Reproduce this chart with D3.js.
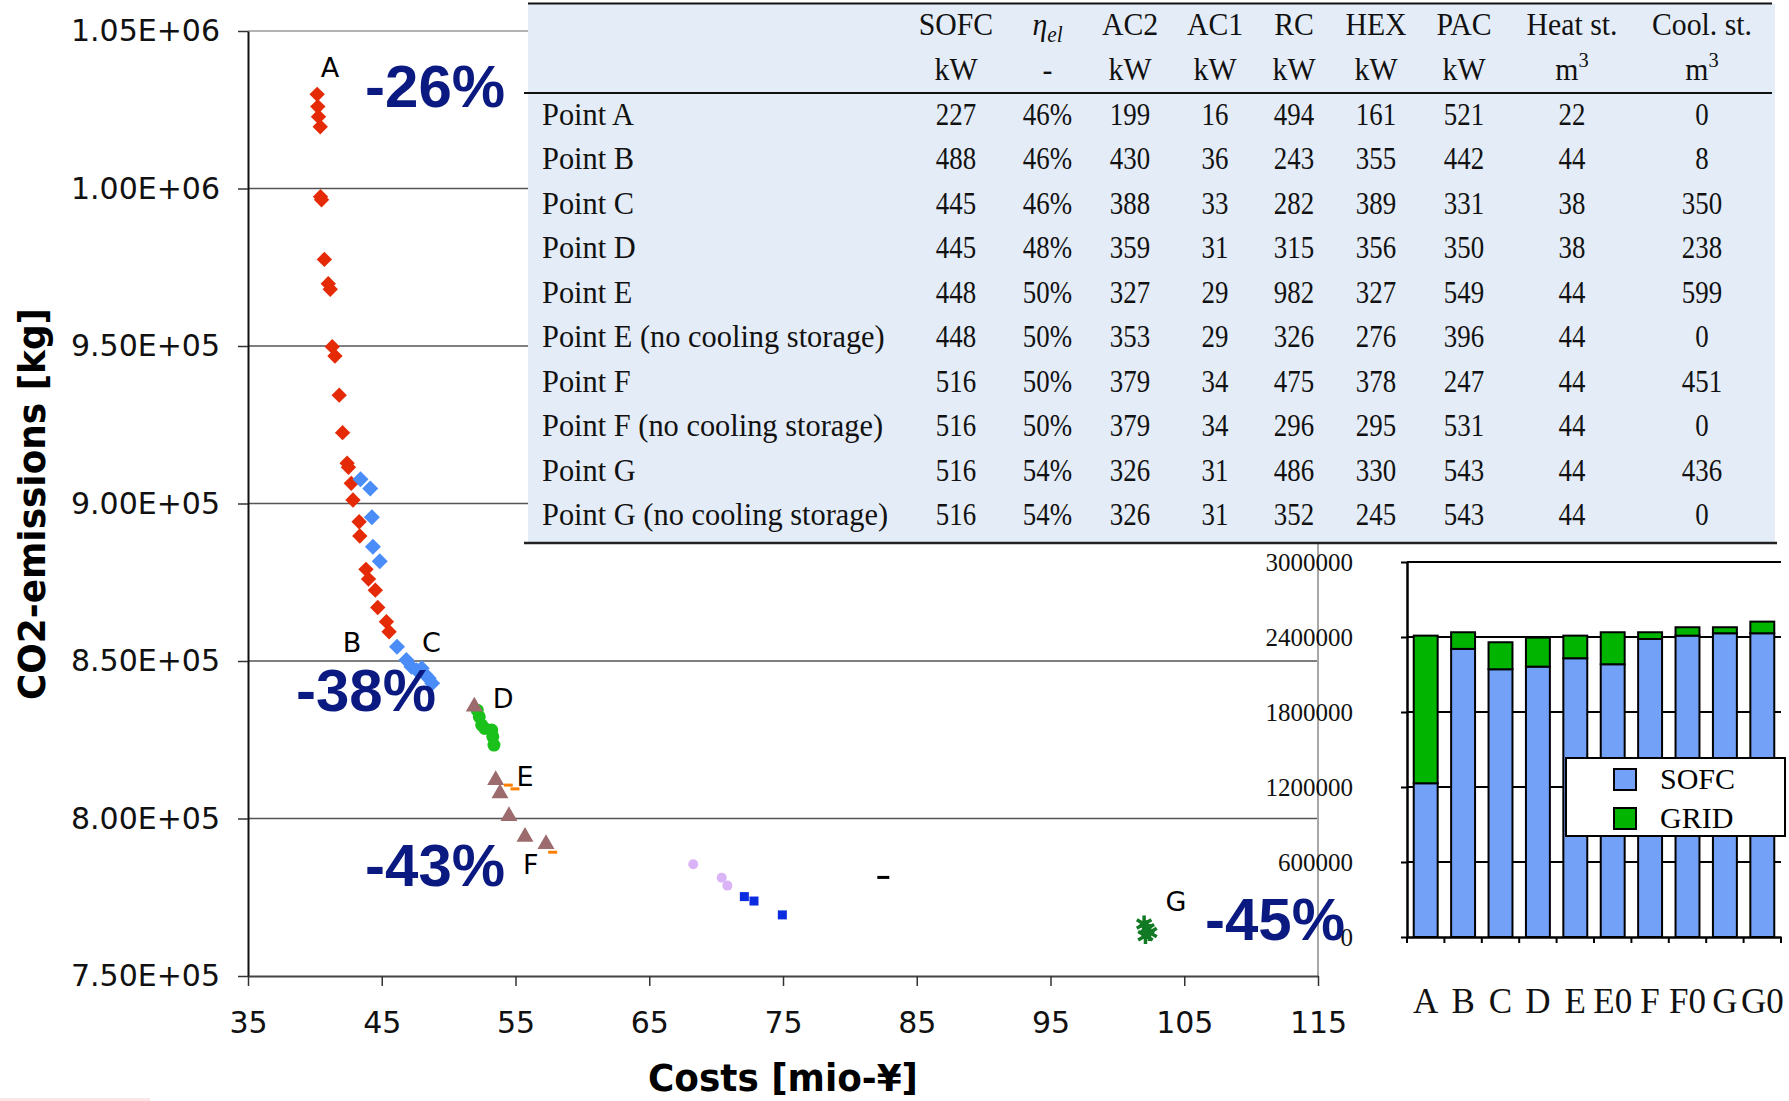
<!DOCTYPE html>
<html>
<head>
<meta charset="utf-8">
<script src="https://cdn.jsdelivr.net/npm/d3@7"></script>
<style>
  body { margin: 0; background: #fff; }
  svg { display: block; }
</style>
</head>
<body>
<svg id="chart" width="1789" height="1101"></svg>
<script>
// ---- scatter data: [cost mio-Yen, CO2 kg] ----
const redPts = [[40.17,1029900],[40.22,1026000],[40.27,1022800],[40.40,1019600],[40.42,997400],[40.50,996400],
  [40.71,977500],[41.00,969800],[41.15,968000],[41.30,949800],[41.50,946800],[41.82,934400],[42.07,922500],
  [42.41,912800],[42.51,911500],[42.72,906400],[42.85,901100],[43.31,894200],[43.36,889700],[43.82,879100],
  [44.01,876000],[44.52,872500],[44.70,867000],[45.35,862500],[45.55,859300]];
const bluePts = [[43.41,907700],[44.14,904800],[44.26,895600],[44.34,886300],[44.85,881700],[46.14,854500],
  [46.84,850300],[47.22,848200],[47.61,847100],[47.99,847700],[48.26,845600],[48.51,844500],[48.77,842900]];
const trianglePts = [[51.92,835500],[53.52,812200],[53.84,808000],[54.51,800800],[55.71,794200],[57.28,791900]];
const greenPts = [[52.14,834400],[52.29,832300],[52.47,829700],[52.70,828600],[53.22,828100],[53.30,826000],[53.39,823300]];
const orangePts = [[54.46,810600],[54.96,809400],[57.78,789300]];
const lilacPts = [[68.29,785500],[70.42,781200],[70.84,778700]];
const squarePts = [[72.11,775200],[72.83,773800],[74.95,769400]];
const dashPts = [[82.50,781300]];
const starPts = [[102.0,766500],[102.2,765000],[102.4,763800],[102.1,762800]];

// point letters and reduction labels (placed in data units)
const pointLabels = [["A",41.13,1035400],["B",42.78,852900],["C",48.72,852900],["D",54.07,835100],
  ["E",55.71,810300],["F",56.14,782400],["G",104.38,770600]];
const pctLabels = [["-26%",43.75,1025900],["-38%",38.59,834100],["-43%",43.75,778600],["-45%",106.55,761400]];

// ---- stacked bar data ----
const barCats = ["A","B","C","D","E","E0","F","F0","G","G0"];
const sofcBar = [1230000,2305000,2142000,2163000,2230000,2182000,2384000,2411000,2430000,2430000];
const gridBar = [1181000,133000,216000,232000,181000,256000,54000,67000,48000,93000];

// ---- table data ----
const rowLabels = ["Point A","Point B","Point C","Point D","Point E","Point E (no cooling storage)",
  "Point F","Point F (no cooling storage)","Point G","Point G (no cooling storage)"];
const colHeads = ["SOFC","η","AC2","AC1","RC","HEX","PAC","Heat st.","Cool. st."];
const colUnits = ["kW","-","kW","kW","kW","kW","kW","m","m"];
const sofcKW = [227,488,445,445,448,448,516,516,516,516];
const etaEl = ["46%","46%","46%","48%","50%","50%","50%","50%","54%","54%"];
const ac2KW = [199,430,388,359,327,353,379,379,326,326];
const ac1KW = [16,36,33,31,29,29,34,34,31,31];
const rcKW = [494,243,282,315,982,326,475,296,486,352];
const hexKW = [161,355,389,356,327,276,378,295,330,245];
const pacKW = [521,442,331,350,549,396,247,531,543,543];
const heatSt = [22,44,38,38,44,44,44,44,44,44];
const coolSt = [0,8,350,238,599,0,451,0,436,0];

const svg = d3.select("#chart");
const sans = "DejaVu Sans, Verdana, sans-serif";
const serif = "Liberation Serif, Times New Roman, serif";

// faint mark at bottom left
svg.append("rect").attr("x", 0).attr("y", 1098).attr("width", 150).attr("height", 3).attr("fill", "#fde6e6");

// ================= main scatter =================
const x = d3.scaleLinear().domain([35, 115]).range([248, 1318]);
const y = d3.scaleLinear().domain([750000, 1050000]).range([976, 31]);
const yTicks = d3.range(750000, 1050001, 50000);

// gridlines
svg.append("g").selectAll("line")
  .data(yTicks.filter(d => d > 750000))
  .join("line")
  .attr("x1", x(35)).attr("x2", x(115))
  .attr("y1", d => y(d)).attr("y2", d => y(d))
  .attr("stroke", d => d === 1050000 ? "#999" : "#555")
  .attr("stroke-width", 1.5);

// right border of the plot area
svg.append("line")
  .attr("x1", x(115)).attr("x2", x(115)).attr("y1", 543).attr("y2", y(750000))
  .attr("stroke", "#a8a8a8").attr("stroke-width", 2);

const fmtE = d => {
  const [m, e] = d.toExponential(2).split("e");
  return m + "E" + e[0] + e.slice(1).padStart(2, "0");
};

const yAxis = svg.append("g")
  .attr("transform", `translate(${x(35)},0)`)
  .call(d3.axisLeft(y).tickValues(yTicks).tickFormat(fmtE).tickSize(10).tickPadding(18).tickSizeOuter(0));
yAxis.attr("font-family", sans).attr("font-size", 30);
yAxis.select(".domain").attr("stroke", "#111").attr("stroke-width", 2);
yAxis.selectAll(".tick line").attr("stroke", "#333").attr("stroke-width", 1.5);
yAxis.selectAll("text").attr("fill", "#111");

const xAxis = svg.append("g")
  .attr("transform", `translate(0,${y(750000)})`)
  .call(d3.axisBottom(x).tickValues(d3.range(35, 116, 10)).tickSize(10).tickPadding(26).tickSizeOuter(0));
xAxis.attr("font-family", sans).attr("font-size", 30);
xAxis.select(".domain").attr("stroke", "#444").attr("stroke-width", 2);
xAxis.selectAll(".tick line").attr("stroke", "#333").attr("stroke-width", 1.5);
xAxis.selectAll("text").attr("fill", "#111");

// axis titles
svg.append("text")
  .attr("x", 783).attr("y", 1091)
  .attr("text-anchor", "middle")
  .attr("font-family", sans).attr("font-weight", "bold").attr("font-size", 37)
  .attr("textLength", 270).attr("lengthAdjust", "spacingAndGlyphs")
  .text("Costs [mio-¥]");

svg.append("text")
  .attr("transform", "translate(45,504) rotate(-90)")
  .attr("text-anchor", "middle")
  .attr("font-family", sans).attr("font-weight", "bold").attr("font-size", 38)
  .attr("textLength", 392).attr("lengthAdjust", "spacingAndGlyphs")
  .text("CO2-emissions [kg]");

// markers
const pos = d => `translate(${x(d[0])},${y(d[1])})`;
const marks = svg.append("g");

marks.append("g").selectAll("path").data(redPts).join("path")
  .attr("d", d3.symbol(d3.symbolSquare, 118))
  .attr("transform", d => pos(d) + " rotate(45)")
  .attr("fill", "#e52a07");

marks.append("g").selectAll("path").data(bluePts).join("path")
  .attr("d", d3.symbol(d3.symbolSquare, 128))
  .attr("transform", d => pos(d) + " rotate(45)")
  .attr("fill", "#4a8df8");

marks.append("g").selectAll("circle").data(greenPts).join("circle")
  .attr("cx", d => x(d[0])).attr("cy", d => y(d[1])).attr("r", 6.5)
  .attr("fill", "#1bc11b");

marks.append("g").selectAll("path").data(trianglePts).join("path")
  .attr("d", d3.symbol(d3.symbolTriangle, 125))
  .attr("transform", pos)
  .attr("fill", "#9b6b6e");

marks.append("g").selectAll("rect").data(orangePts).join("rect")
  .attr("x", d => x(d[0]) - 4.5).attr("y", d => y(d[1]) - 1.5)
  .attr("width", 9).attr("height", 3)
  .attr("fill", "#ff8000");

marks.append("g").selectAll("circle").data(lilacPts).join("circle")
  .attr("cx", d => x(d[0])).attr("cy", d => y(d[1])).attr("r", 5)
  .attr("fill", "#dab4f6");

marks.append("g").selectAll("rect").data(squarePts).join("rect")
  .attr("x", d => x(d[0]) - 4.5).attr("y", d => y(d[1]) - 4.5)
  .attr("width", 9).attr("height", 9)
  .attr("fill", "#0b2be0");

marks.append("g").selectAll("rect").data(dashPts).join("rect")
  .attr("x", d => x(d[0]) - 6).attr("y", d => y(d[1]) - 1.5)
  .attr("width", 12).attr("height", 3)
  .attr("fill", "#000");

marks.append("g").selectAll("path").data(starPts).join("path")
  .attr("d", d3.symbol(d3.symbolAsterisk, 200))
  .attr("transform", pos)
  .attr("fill", "none").attr("stroke", "#127a25").attr("stroke-width", 3.5);

// letters
svg.append("g").selectAll("text").data(pointLabels).join("text")
  .attr("x", d => x(d[1])).attr("y", d => y(d[2]))
  .attr("text-anchor", "middle")
  .attr("font-family", sans).attr("font-size", 27)
  .text(d => d[0]);

// ================= stacked bars =================
const xb = d3.scaleBand().domain(barCats).range([1407, 1781]).paddingInner(0.36).paddingOuter(0.18);
const yb = d3.scaleLinear().domain([0, 3000000]).range([937, 562]);
const barTicks = d3.range(0, 3000001, 600000);

const bars = svg.append("g");

bars.append("g").selectAll("line").data(barTicks.filter(d => d > 0)).join("line")
  .attr("x1", 1407).attr("x2", 1781)
  .attr("y1", d => yb(d)).attr("y2", d => yb(d))
  .attr("stroke", "#000").attr("stroke-width", 2);

const ybAxis = bars.append("g")
  .attr("transform", "translate(1407,0)")
  .call(d3.axisLeft(yb).tickValues(barTicks).tickFormat(d3.format("d")).tickSize(6).tickPadding(48).tickSizeOuter(0));
ybAxis.attr("font-family", serif).attr("font-size", 25);
ybAxis.select(".domain").attr("stroke", "#000").attr("stroke-width", 2.5);
ybAxis.selectAll(".tick line").attr("stroke", "#000").attr("stroke-width", 2);
ybAxis.selectAll("text").attr("fill", "#111");

bars.append("g").selectAll("rect").data(barCats).join("rect")
  .attr("x", d => xb(d)).attr("width", xb.bandwidth())
  .attr("y", (d, i) => yb(sofcBar[i])).attr("height", (d, i) => yb(0) - yb(sofcBar[i]))
  .attr("fill", "#73a1f8").attr("stroke", "#000").attr("stroke-width", 2);

bars.append("g").selectAll("rect").data(barCats).join("rect")
  .attr("x", d => xb(d)).attr("width", xb.bandwidth())
  .attr("y", (d, i) => yb(sofcBar[i] + gridBar[i])).attr("height", (d, i) => yb(sofcBar[i]) - yb(sofcBar[i] + gridBar[i]))
  .attr("fill", "#00b400").attr("stroke", "#000").attr("stroke-width", 2);

const xbAxis = bars.append("g")
  .attr("transform", `translate(0,${yb(0)})`)
  .call(d3.axisBottom(xb).tickSize(0).tickPadding(51));
xbAxis.attr("font-family", serif).attr("font-size", 35);
xbAxis.select(".domain").attr("stroke", "#000").attr("stroke-width", 2.5);
xbAxis.selectAll("text").attr("fill", "#111");

// category boundary ticks
bars.append("g").selectAll("line").data(d3.range(barCats.length + 1)).join("line")
  .attr("x1", i => 1407 + i * xb.step()).attr("x2", i => 1407 + i * xb.step())
  .attr("y1", yb(0)).attr("y2", yb(0) + 6)
  .attr("stroke", "#000").attr("stroke-width", 2);

// legend
const lg = bars.append("g");
lg.append("rect").attr("x", 1566).attr("y", 758).attr("width", 219).attr("height", 78)
  .attr("fill", "#fff").attr("stroke", "#000").attr("stroke-width", 2);
[["SOFC", "#73a1f8"], ["GRID", "#00b400"]].forEach(([name, col], i) => {
  lg.append("rect").attr("x", 1614).attr("y", 769 + i * 39).attr("width", 22).attr("height", 21)
    .attr("fill", col).attr("stroke", "#000").attr("stroke-width", 2);
  lg.append("text").attr("x", 1660).attr("y", 789 + i * 39)
    .attr("font-family", serif).attr("font-size", 30).text(name);
});

// ================= table =================
const tbl = svg.append("g");
tbl.append("rect").attr("x", 528).attr("y", 4).attr("width", 1247).attr("height", 538).attr("fill", "#e4ecf7");
tbl.append("line").attr("x1", 528).attr("x2", 1772).attr("y1", 3.5).attr("y2", 3.5).attr("stroke", "#111").attr("stroke-width", 2);
tbl.append("line").attr("x1", 524).attr("x2", 1772).attr("y1", 93).attr("y2", 93).attr("stroke", "#111").attr("stroke-width", 2);
tbl.append("line").attr("x1", 524).attr("x2", 1777).attr("y1", 543).attr("y2", 543).attr("stroke", "#222").attr("stroke-width", 2.5);

const colX = [956, 1047.5, 1130, 1215, 1294, 1376, 1464, 1572, 1702];
const tableCols = [sofcKW, etaEl, ac2KW, ac1KW, rcKW, hexKW, pacKW, heatSt, coolSt];
const rowY = d3.scalePoint().domain(rowLabels).range([125, 525]);

const cellText = (g, cx, by, sx, anchor) => g.append("text")
  .attr("transform", `translate(${cx},${by}) scale(${sx},1)`)
  .attr("text-anchor", anchor)
  .attr("font-family", serif).attr("font-size", 32).attr("fill", "#111");

colHeads.forEach((h, j) => {
  const t = cellText(tbl, colX[j], 35, 0.93, "middle");
  if (h === "η") {
    t.append("tspan").attr("font-style", "italic").text("η");
    t.append("tspan").attr("font-style", "italic").attr("font-size", 23).attr("dy", 7).text("el");
  } else {
    t.text(h);
  }
  const u = cellText(tbl, colX[j], 80, 0.93, "middle");
  u.append("tspan").text(colUnits[j]);
  if (colUnits[j] === "m") u.append("tspan").attr("font-size", 22).attr("dy", -13).text("3");
});

rowLabels.forEach((r, i) => {
  cellText(tbl, 542, rowY(r), 0.95, "start").text(r);
  tableCols.forEach((col, j) => {
    cellText(tbl, colX[j], rowY(r), 0.84, "middle").text(col[i]);
  });
});

// reduction labels on top
svg.append("g").selectAll("text").data(pctLabels).join("text")
  .attr("x", d => x(d[1])).attr("y", d => y(d[2]))
  .attr("font-family", "Liberation Sans, Arial, sans-serif").attr("font-weight", "bold").attr("font-size", 60)
  .attr("fill", "#0b1a80")
  .text(d => d[0]);
</script>
</body>
</html>
